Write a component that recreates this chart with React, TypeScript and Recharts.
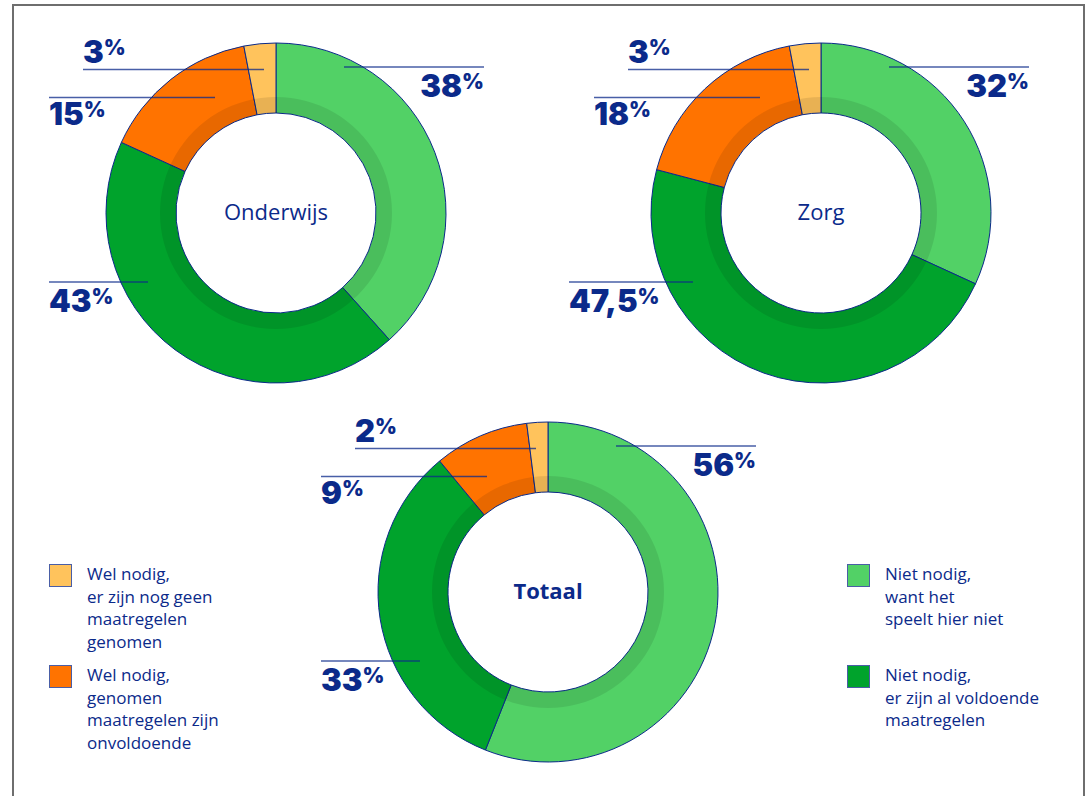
import React from "react";
import { PieChart, Pie, Cell } from "recharts";

// ---- data ----
const categories = [
  "Niet nodig, want het speelt hier niet",
  "Niet nodig, er zijn al voldoende maatregelen",
  "Wel nodig, genomen maatregelen zijn onvoldoende",
  "Wel nodig, er zijn nog geen maatregelen genomen",
];
const onderwijsValues = [38, 43, 15, 3];
const zorgValues = [32, 47.5, 18, 3];
const totaalValues = [56, 33, 9, 2];
const onderwijsLabels = ["38%", "43%", "15%", "3%"];
const zorgLabels = ["32%", "47,5%", "18%", "3%"];
const totaalLabels = ["56%", "33%", "9%", "2%"];
const chartTitles = ["Onderwijs", "Zorg", "Totaal"];
const legendLeft = [
  { cat: 3, lines: ["Wel nodig,", "er zijn nog geen", "maatregelen", "genomen"] },
  { cat: 2, lines: ["Wel nodig,", "genomen", "maatregelen zijn", "onvoldoende"] },
];
const legendRight = [
  { cat: 0, lines: ["Niet nodig,", "want het", "speelt hier niet"] },
  { cat: 1, lines: ["Niet nodig,", "er zijn al voldoende", "maatregelen"] },
];

// ---- styles ----
const NAVY = "#0b2a8a";
const COLORS = ["#52d166", "#00a32c", "#ff7300", "#ffc35c"];
const INNER = 100;
const OUTER = 170;
const SHADE_OUTER = 116;

type LayoutItem = { x1: number; x2: number; y: number; anchor: "start" | "end"; ty: number };
const baseLayout: LayoutItem[] = [
  { x1: 68, x2: 208, y: -146, anchor: "end", ty: -116 },
  { x1: -227, x2: -128, y: 69, anchor: "start", ty: 99 },
  { x1: -227, x2: -61, y: -115.5, anchor: "start", ty: -88 },
  { x1: -193, x2: -12, y: -143.5, anchor: "start", ty: -150 },
];
const zorgLayout: LayoutItem[] = baseLayout.map((l, i) => (i === 1 ? { ...l, x1: -252 } : l));

const toData = (values: number[]) => values.map((v, i) => ({ name: categories[i], value: v }));

function makeLabel(labels: string[], layout: LayoutItem[]) {
  return (props: any) => {
    const { cx, cy, index } = props;
    const l = layout[index];
    const num = labels[index].replace("%", "");
    const tx = l.anchor === "end" ? cx + l.x2 : cx + l.x1;
    return (
      <g key={`lab-${index}`}>
        <line
          x1={cx + l.x1}
          x2={cx + l.x2}
          y1={cy + l.y}
          y2={cy + l.y}
          stroke={NAVY}
          strokeOpacity={0.75}
          strokeWidth={1.3}
        />
        <text
          x={tx}
          y={cy + l.ty}
          textAnchor={l.anchor}
          fill={NAVY}
          fontFamily="Inter, 'Open Sans', sans-serif"
          fontWeight={900}
        >
          <tspan fontSize={31}>{num}</tspan>
          <tspan fontSize={21} dy={-8}>%</tspan>
        </text>
      </g>
    );
  };
}

function makeCenter(title: string, bold: boolean) {
  return (props: any) => (
    <text
      key="center"
      x={props.cx}
      y={props.cy + 7}
      textAnchor="middle"
      fill={NAVY}
      fontFamily="'Open Sans', sans-serif"
      fontSize={22}
      fontWeight={bold ? 700 : 400}
    >
      {title}
    </text>
  );
}

const donuts = [
  { id: "o", cx: 276, cy: 213, values: onderwijsValues, labels: onderwijsLabels, layout: baseLayout, title: chartTitles[0], bold: false },
  { id: "z", cx: 821, cy: 213, values: zorgValues, labels: zorgLabels, layout: zorgLayout, title: chartTitles[1], bold: false },
  { id: "t", cx: 548, cy: 592, values: totaalValues, labels: totaalLabels, layout: baseLayout, title: chartTitles[2], bold: true },
];

function LegendBlock({ items, left }: { items: typeof legendLeft; left: number }) {
  const tops = [564, 665];
  return (
    <>
      {items.map((it, i) => (
        <div key={i} style={{ position: "absolute", left, top: tops[i], display: "flex" }}>
          <div
            style={{
              width: 23,
              height: 23,
              boxSizing: "border-box",
              background: COLORS[it.cat],
              border: "1.5px solid #4a5ea6",
              marginRight: 15,
              flexShrink: 0,
            }}
          />
          <div
            style={{
              fontFamily: "'Open Sans', sans-serif",
              fontSize: 17,
              lineHeight: "22.5px",
              color: NAVY,
              whiteSpace: "nowrap",
              marginTop: -1,
            }}
          >
            {it.lines.map((ln, j) => (
              <div key={j}>{ln}</div>
            ))}
          </div>
        </div>
      ))}
    </>
  );
}

export default function App() {
  return (
    <div
      style={{
        position: "absolute",
        left: 0,
        top: 0,
        width: 1085,
        height: 796,
        overflow: "hidden",
        background: "#fff",
      }}
    >
      <div
        style={{
          position: "absolute",
          left: 12,
          top: 4,
          width: 1073,
          height: 900,
          boxSizing: "border-box",
          border: "2px solid #6e6e6e",
        }}
      />
      <div style={{ position: "absolute", left: 0, top: 0 }}>
        <PieChart width={1085} height={796} margin={{ top: 0, right: 0, bottom: 0, left: 0 }}>
          {donuts.flatMap((d) => [
            <Pie
              key={`${d.id}-main`}
              data={toData(d.values)}
              dataKey="value"
              cx={d.cx}
              cy={d.cy}
              innerRadius={INNER}
              outerRadius={OUTER}
              startAngle={90}
              endAngle={-270}
              stroke={NAVY}
              strokeWidth={1}
              isAnimationActive={false}
              labelLine={false}
              label={makeLabel(d.labels, d.layout)}
            >
              {d.values.map((_, i) => (
                <Cell key={i} fill={COLORS[i]} />
              ))}
            </Pie>,
            <Pie
              key={`${d.id}-shade`}
              data={[{ name: "shade", value: 1 }]}
              dataKey="value"
              cx={d.cx}
              cy={d.cy}
              innerRadius={INNER}
              outerRadius={SHADE_OUTER}
              startAngle={90}
              endAngle={-270}
              fill="#000"
              fillOpacity={0.09}
              stroke="none"
              isAnimationActive={false}
              labelLine={false}
              label={makeCenter(d.title, d.bold)}
            />,
          ])}
        </PieChart>
      </div>
      <LegendBlock items={legendLeft} left={49} />
      <LegendBlock items={legendRight} left={847} />
    </div>
  );
}
